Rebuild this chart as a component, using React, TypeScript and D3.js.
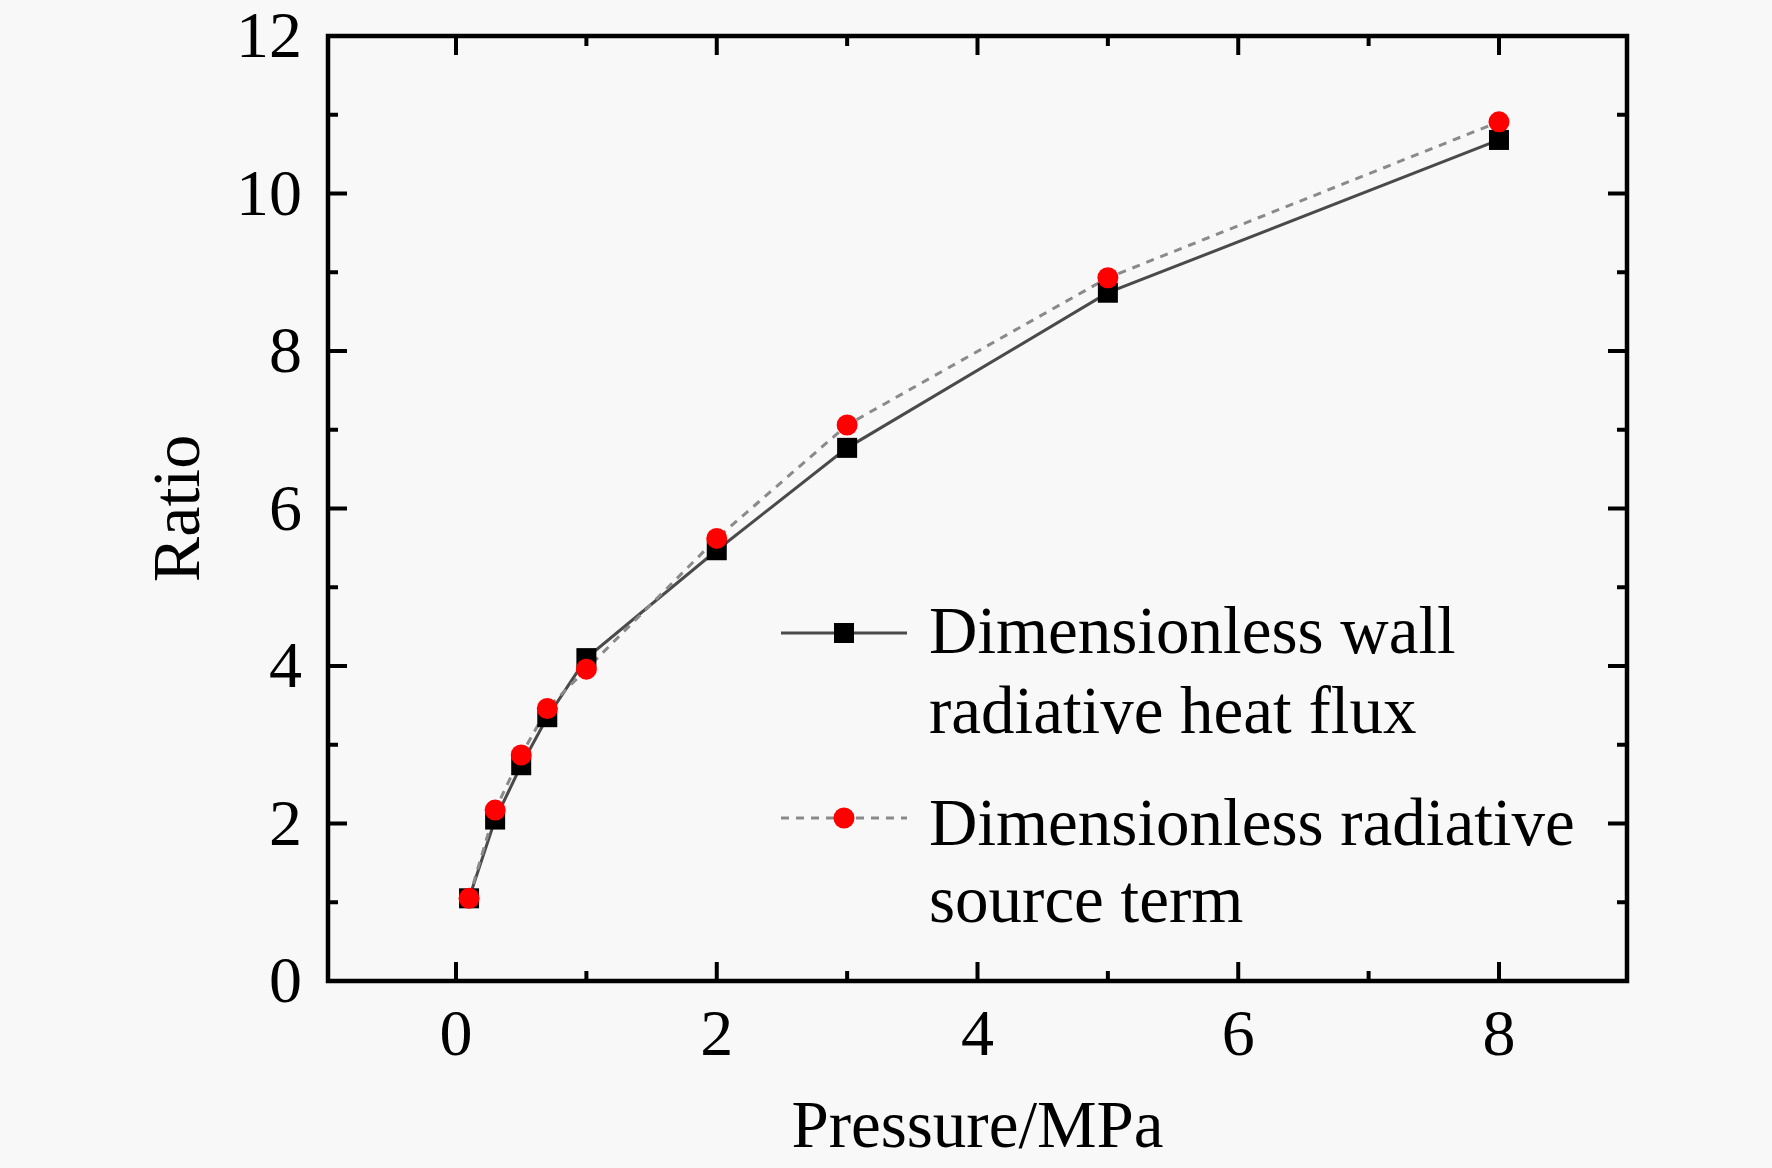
import React from "react";
import * as d3 from "d3";

const pressure = [0.1, 0.3, 0.5, 0.7, 1, 2, 3, 5, 8];
const wallFlux = [1.05, 2.05, 2.74, 3.35, 4.1, 5.47, 6.77, 8.74, 10.68];
const sourceTerm = [1.05, 2.17, 2.87, 3.46, 3.96, 5.62, 7.06, 8.93, 10.91];
const xMajorTicks = [0, 2, 4, 6, 8];
const xMinorTicks = [1, 3, 5, 7];
const yMajorTicks = [0, 2, 4, 6, 8, 10, 12];
const yMinorTicks = [1, 3, 5, 7, 9, 11];
const legendLabels = [
  ["Dimensionless wall", "radiative heat flux"],
  ["Dimensionless radiative", "source term"],
];

const W = 1772;
const H = 1168;
const L = 328, R = 1627, T = 36, B = 981;
const FONT = "'Liberation Serif', 'Times New Roman', serif";

export default function App() {
  const x = d3.scaleLinear().domain([-0.982, 8.982]).range([L, R]);
  const y = d3.scaleLinear().domain([0, 12]).range([B, T]);
  const line = d3
    .line<[number, number]>()
    .x((d) => x(d[0]))
    .y((d) => y(d[1]));
  const s1: [number, number][] = pressure.map((p, i) => [p, wallFlux[i]]);
  const s2: [number, number][] = pressure.map((p, i) => [p, sourceTerm[i]]);
  const MAJ = 19;
  const MIN = 10;
  const sq = 20;
  const cr = 10.5;

  return (
    <div style={{ position: "absolute", left: 0, top: 0 }}>
      <svg width={W} height={H} style={{ display: "block" }}>
        <rect x={0} y={0} width={W} height={H} fill="#f8f8f8" />
        {/* series lines */}
        <path d={line(s1) || ""} fill="none" stroke="#4a4a4a" strokeWidth={3} />
        <path
          d={line(s2) || ""}
          fill="none"
          stroke="#8a8a8a"
          strokeWidth={3}
          strokeDasharray="8,7"
        />
        {/* markers */}
        {s1.map((d, i) => (
          <rect
            key={"s" + i}
            x={x(d[0]) - sq / 2}
            y={y(d[1]) - sq / 2}
            width={sq}
            height={sq}
            fill="#000"
          />
        ))}
        {s2.map((d, i) => (
          <circle key={"c" + i} cx={x(d[0])} cy={y(d[1])} r={cr} fill="#ff0000" />
        ))}
        {/* frame */}
        <rect
          x={L}
          y={T}
          width={R - L}
          height={B - T}
          fill="none"
          stroke="#000"
          strokeWidth={4.5}
        />
        {/* x ticks */}
        {xMajorTicks.map((t) => (
          <g key={"xm" + t}>
            <line x1={x(t)} x2={x(t)} y1={B} y2={B - MAJ} stroke="#000" strokeWidth={4} />
            <line x1={x(t)} x2={x(t)} y1={T} y2={T + MAJ} stroke="#000" strokeWidth={4} />
            <text
              x={x(t)}
              y={1055}
              textAnchor="middle"
              fontFamily={FONT}
              fontSize={66}
              fill="#000"
            >
              {t}
            </text>
          </g>
        ))}
        {xMinorTicks.map((t) => (
          <g key={"xn" + t}>
            <line x1={x(t)} x2={x(t)} y1={B} y2={B - MIN} stroke="#000" strokeWidth={4} />
            <line x1={x(t)} x2={x(t)} y1={T} y2={T + MIN} stroke="#000" strokeWidth={4} />
          </g>
        ))}
        {/* y ticks */}
        {yMajorTicks.map((t) => (
          <g key={"ym" + t}>
            <line x1={L} x2={L + MAJ} y1={y(t)} y2={y(t)} stroke="#000" strokeWidth={4} />
            <line x1={R} x2={R - MAJ} y1={y(t)} y2={y(t)} stroke="#000" strokeWidth={4} />
            <text
              x={302}
              y={y(t) + 21}
              textAnchor="end"
              fontFamily={FONT}
              fontSize={66}
              fill="#000"
            >
              {t}
            </text>
          </g>
        ))}
        {yMinorTicks.map((t) => (
          <g key={"yn" + t}>
            <line x1={L} x2={L + MIN} y1={y(t)} y2={y(t)} stroke="#000" strokeWidth={4} />
            <line x1={R} x2={R - MIN} y1={y(t)} y2={y(t)} stroke="#000" strokeWidth={4} />
          </g>
        ))}
        {/* axis titles */}
        <text
          x={(L + R) / 2}
          y={1147}
          textAnchor="middle"
          fontFamily={FONT}
          fontSize={67}
          fill="#000"
        >
          Pressure/MPa
        </text>
        <text
          transform={`translate(199, ${(T + B) / 2}) rotate(-90)`}
          textAnchor="middle"
          fontFamily={FONT}
          fontSize={68}
          fill="#000"
        >
          Ratio
        </text>
        {/* legend */}
        <g>
          <line x1={781} x2={907} y1={633} y2={633} stroke="#4a4a4a" strokeWidth={3} />
          <rect x={844 - sq / 2} y={633 - sq / 2} width={sq} height={sq} fill="#000" />
          <text x={929} y={653} fontFamily={FONT} fontSize={67} fill="#000">
            {legendLabels[0][0]}
          </text>
          <text x={929} y={733} fontFamily={FONT} fontSize={67} fill="#000">
            {legendLabels[0][1]}
          </text>
          <line
            x1={781}
            x2={907}
            y1={818}
            y2={818}
            stroke="#8a8a8a"
            strokeWidth={3}
            strokeDasharray="8,7"
          />
          <circle cx={844} cy={818} r={cr} fill="#ff0000" />
          <text x={929} y={845} fontFamily={FONT} fontSize={67} fill="#000">
            {legendLabels[1][0]}
          </text>
          <text x={929} y={922} fontFamily={FONT} fontSize={67} fill="#000">
            {legendLabels[1][1]}
          </text>
        </g>
      </svg>
    </div>
  );
}
